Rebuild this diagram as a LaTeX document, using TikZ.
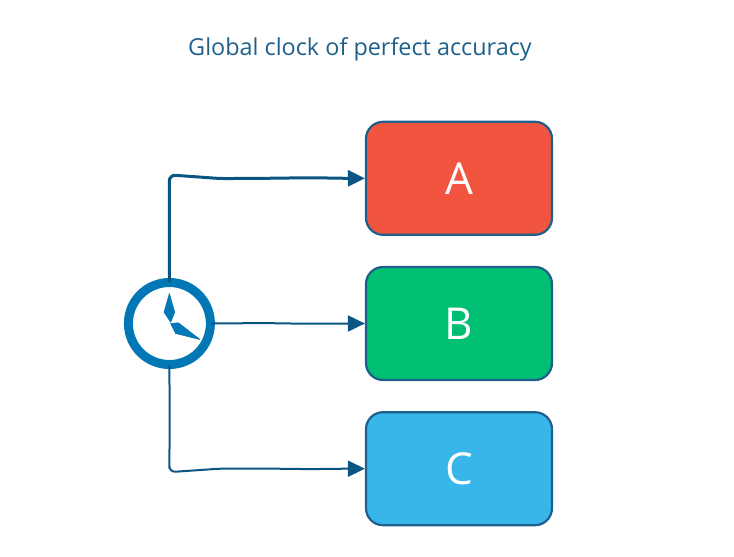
\documentclass[tikz,border=0pt]{standalone}
\usepackage{fontspec}
\setmainfont{Open Sans}
\usetikzlibrary{arrows.meta, positioning, decorations.pathmorphing}
\definecolor{clockblue}{HTML}{0277B5}
\definecolor{edgeblue}{HTML}{1F5F8B}
\definecolor{linkblue}{HTML}{0B5583}
\definecolor{boxred}{HTML}{F2553F}
\definecolor{boxgreen}{HTML}{00BE72}
\definecolor{boxcyan}{HTML}{38B6EA}
\pgfmathsetseed{7}

\begin{document}
\begin{tikzpicture}[
    x=1pt, y=1pt,
    node distance=30pt and 150pt,
    block/.style={rectangle, draw=edgeblue, line width=2.2pt, rounded corners=17pt, minimum width=186pt, minimum height=113pt, text=white, font=\fontsize{44}{44}\selectfont},
    clockring/.style={circle, draw=clockblue, line width=9pt, fill=white, minimum size=82pt, inner sep=0pt},
    arrow/.style={-{Triangle[length=17pt, width=16pt]}, draw=linkblue, rounded corners=6pt, decorate, decoration={random steps, segment length=45pt, amplitude=.6pt, pre length=2pt, post length=20pt}}
]
\path[use as bounding box] (0,0) rectangle (734,-557);
\node[font=\fontsize{23.4}{28}\selectfont, text=edgeblue] (title) at (360,-49) {Global clock of perfect accuracy};
\node[block, fill=boxgreen] (b) at (459,-323.5) {B};
\node[block, fill=boxred, above=of b] (a) {A};
\node[block, fill=boxcyan, below=of b] (c) {C};
\node[clockring, left=of b] (clock) {};
% clock hands
\filldraw[clockblue, line width=.6pt, line join=round] (clock.center) ++(0,30) -- ++(-5.4,-18.7) -- ++(6.7,-10) -- ++(4,10) -- cycle;
\filldraw[clockblue, line width=.6pt, line join=round] (clock.center) ++(1.3,0) -- ++(7.7,0.7) -- ++(21.6,-16.7) -- ++(-24.3,6) -- cycle;
\draw[arrow, line width=3pt] (clock.north) |- (a.west);
\draw[arrow, line width=2pt] (clock.east) -- (b.west);
\draw[arrow, line width=2pt] (clock.south) |- (c.west);
\end{tikzpicture}
\end{document}
